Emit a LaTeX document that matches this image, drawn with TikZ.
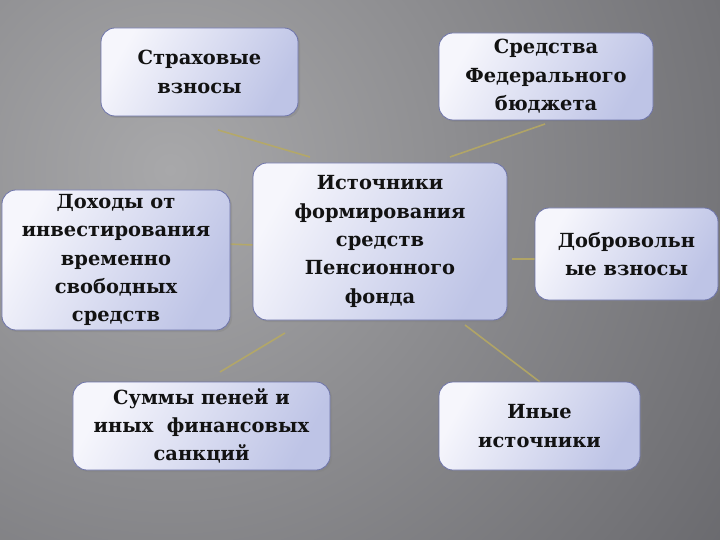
\documentclass[tikz,border=0pt]{standalone}
\usepackage{fontspec}
\setmainfont{DejaVu Serif}
\usetikzlibrary{shadows}
\definecolor{bgin}{RGB}{168,168,170}
\definecolor{bgout}{RGB}{62,62,68}
\definecolor{boxl}{RGB}{246,246,252}
\definecolor{boxr}{RGB}{190,196,230}
\definecolor{boxline}{RGB}{110,116,170}
\definecolor{conn}{RGB}{184,170,96}
\definecolor{txt}{RGB}{18,18,18}
\tikzset{
  box/.style={draw=boxline, line width=0.8pt, rounded corners=14bp,
    left color=boxl, right color=boxr, shading angle=60,
    drop shadow={opacity=0.35, shadow xshift=2bp, shadow yshift=-2bp},
    align=center, inner sep=2bp, text=txt,
    font=\bfseries\fontsize{19.5}{28.5}\selectfont},
  conline/.style={draw=conn, line width=1.6pt, opacity=0.85}
}
\begin{document}
\begin{tikzpicture}[x=1bp,y=-1bp]
\useasboundingbox (0,0) rectangle (720,540);
\begin{scope}
  \clip (0,0) rectangle (720,540);
  \shade[inner color=bgin, outer color=bgout] (170,170) circle (1150);
\end{scope}
% connectors
\coordinate (c1a) at (218,130); \coordinate (c1b) at (310,157);
\coordinate (c2a) at (450,157); \coordinate (c2b) at (545,124);
\coordinate (c3a) at (226,244); \coordinate (c3b) at (255,245);
\coordinate (c4a) at (512,259); \coordinate (c4b) at (535,259);
\coordinate (c5a) at (220,372); \coordinate (c5b) at (285,333);
\coordinate (c6a) at (465,325); \coordinate (c6b) at (540,382);
\draw[conline] (c1a) -- (c1b);
\draw[conline] (c2a) -- (c2b);
\draw[conline] (c3a) -- (c3b);
\draw[conline] (c4a) -- (c4b);
\draw[conline] (c5a) -- (c5b);
\draw[conline] (c6a) -- (c6b);
% boxes
\node[box, minimum width=197bp, minimum height=88bp] (ins) at (199.5,72) {Страховые\\взносы};
\node[box, minimum width=214bp, minimum height=87bp] (fed) at (546,76.5) {Средства\\Федерального\\бюджета};
\node[box, minimum width=254bp, minimum height=157bp] (cen) at (380,241.5) {Источники\\формирования\\средств\\Пенсионного\\фонда};
\node[box, minimum width=228bp, minimum height=140bp] (inv) at (116,260) {Доходы от\\инвестирования\\временно\\свободных\\средств};
\node[box, minimum width=183bp, minimum height=92bp] (vol) at (626.5,254) {Добровольн\\ые взносы};
\node[box, minimum width=257bp, minimum height=88bp] (fin) at (201.5,426) {Суммы пеней и\\иных \ финансовых\\санкций};
\node[box, minimum width=201bp, minimum height=88bp] (oth) at (539.5,426) {Иные\\источники};
\end{tikzpicture}
\end{document}
